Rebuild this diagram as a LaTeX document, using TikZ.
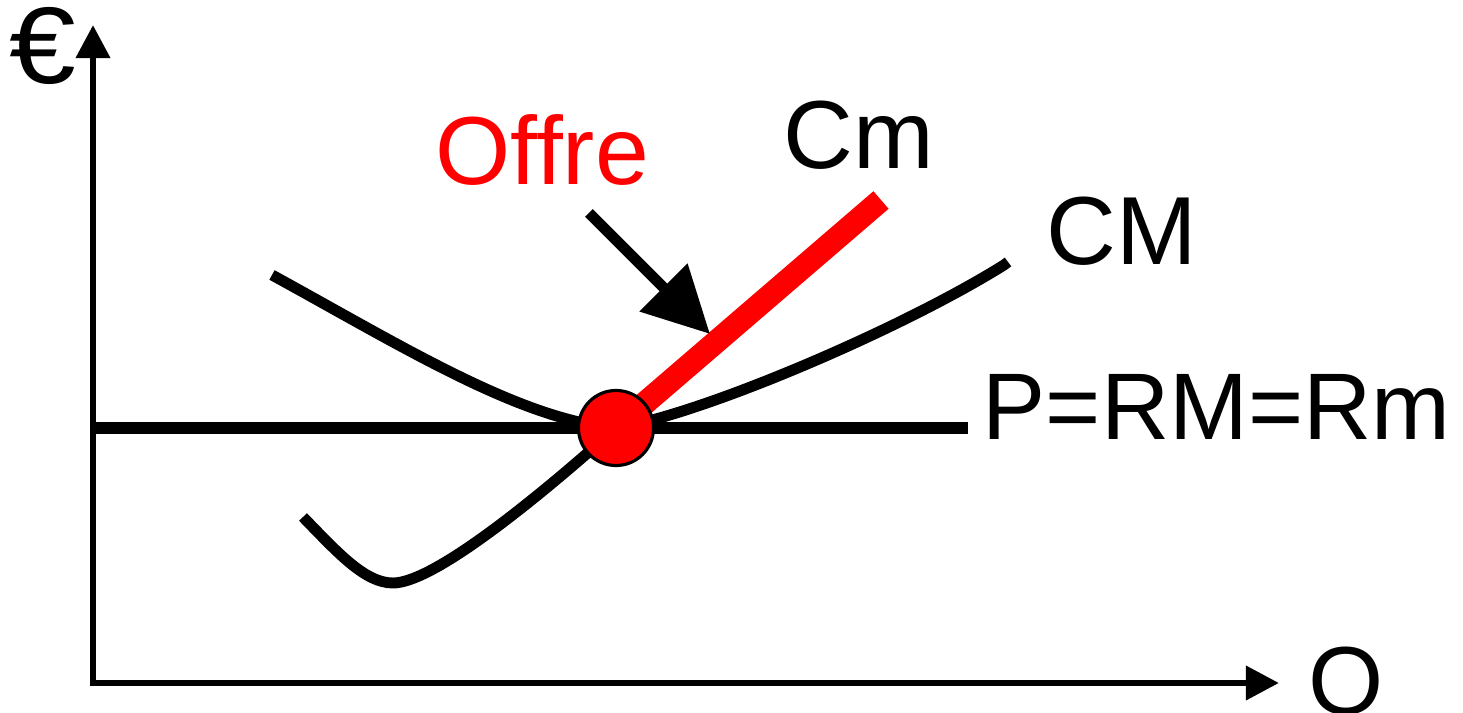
\documentclass[tikz,border=0pt]{standalone}
\usepackage{fontspec}
\setmainfont{Liberation Sans}
\usetikzlibrary{arrows.meta}
\definecolor{offrered}{RGB}{255,0,0}
\tikzset{
  lbl/.style={inner sep=0pt, anchor=base west, font=\fontsize{27.5pt}{33pt}\selectfont},
  axisline/.style={line width=1.9pt, {Triangle[length=9.4pt,width=9.4pt]}-{Triangle[length=9.4pt,width=9.4pt]}},
  curveline/.style={line width=3.1pt, line cap=butt},
  offreline/.style={line width=6.6pt, offrered, line cap=butt},
  pointer/.style={line width=3.1pt, -{Triangle[length=18.7pt,width=18.5pt]}},
  eqdot/.style={circle, fill=offrered, draw=black, line width=0.9pt, minimum size=0.75cm, inner sep=0pt}
}
\begin{document}
\begin{tikzpicture}[x=0.01cm, y=-0.01cm]
\useasboundingbox (0,0) rectangle (1463,713);
% coordinates
\coordinate (O) at (93,683);
\coordinate (ytip) at (93,25);
\coordinate (xtip) at (1279,683);
\coordinate (pl) at (93,428);
\coordinate (pr) at (968,428);
\coordinate (E) at (616,428);
\coordinate (cmtop) at (881,200);
\coordinate (aStart) at (589,213);
\coordinate (aTip) at (710,334);
\coordinate (CMa) at (272,275);
\coordinate (CMb) at (1004,265);
\coordinate (CMc) at (1008,262);
\coordinate (Cma) at (303,517);
\coordinate (Cmmin) at (393,583);
% axes
\draw[axisline] (ytip) -- (O) -- (xtip);
% price line
\draw[curveline, line width=3.4pt] (pl) -- (pr);
% CM curve
\draw[curveline] (CMa) .. controls (400,345) and (520,420) .. (E)
                       .. controls (700,415) and (900,330) .. (CMb) -- (CMc);
% Cm curve
\draw[curveline] (Cma) .. controls (338,553) and (365,583) .. (Cmmin)
                       .. controls (430,583) and (522,512) .. (E);
% supply (offre)
\draw[offreline] (E) -- (cmtop);
% pointer arrow
\draw[pointer] (aStart) -- (aTip);
% equilibrium dot
\node[eqdot] (dot) at (E) {};
% labels
\node[lbl, font=\fontsize{31pt}{36pt}\selectfont, xscale=1.1] (euro) at (9,84) {€};
\node[lbl, text=offrered] (offre) at (435,185) {Offre};
\node[lbl] (cm) at (783,169) {Cm};
\node[lbl] (CM) at (1046,265) {CM};
\node[lbl, font=\fontsize{26.9pt}{32pt}\selectfont] (prm) at (982,440) {P=RM=Rm};
\node[lbl] (q) at (1308,715) {Q};
\end{tikzpicture}
\end{document}
